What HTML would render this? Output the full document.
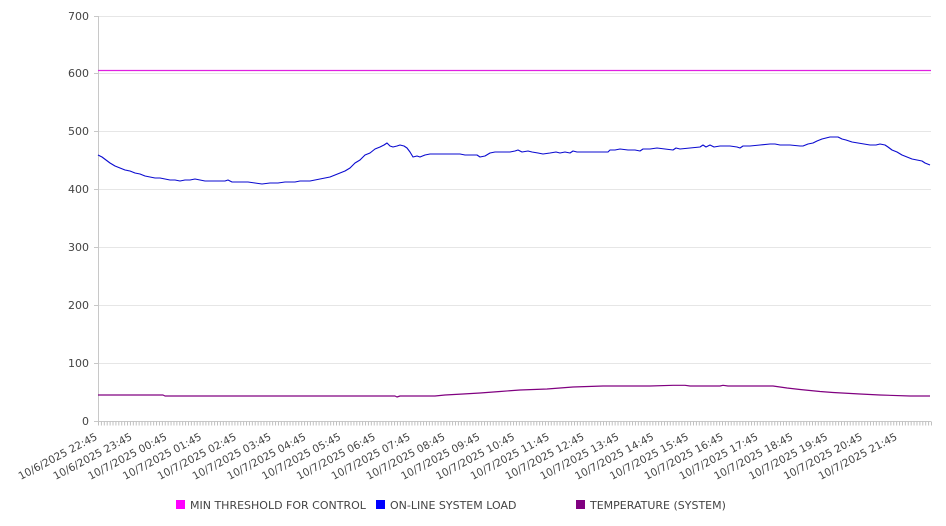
<!DOCTYPE html>
<html>
<head>
<meta charset="utf-8">
<style>
  html, body { margin: 0; padding: 0; background: #ffffff; }
  body { width: 946px; height: 526px; overflow: hidden; }
  svg { display: block; font-family: "DejaVu Sans", "Liberation Sans", sans-serif; }
  .yl { font-size: 11px; fill: #444; text-anchor: end; }
  .xl { font-size: 10.5px; fill: #444; text-anchor: end; }
  .lg { font-size: 11px; fill: #444; }
</style>
</head>
<body>
<svg width="946" height="526" viewBox="0 0 946 526" xmlns="http://www.w3.org/2000/svg">
  <!-- gridlines -->
  <g stroke="#e6e6e6" stroke-width="1">
    <line x1="98" y1="16.5" x2="931" y2="16.5"/>
    <line x1="98" y1="73.5" x2="931" y2="73.5"/>
    <line x1="98" y1="131.5" x2="931" y2="131.5"/>
    <line x1="98" y1="189.5" x2="931" y2="189.5"/>
    <line x1="98" y1="247.5" x2="931" y2="247.5"/>
    <line x1="98" y1="305.5" x2="931" y2="305.5"/>
    <line x1="98" y1="363.5" x2="931" y2="363.5"/>
  </g>
  <!-- axes -->
  <g stroke="#c8c8c8" stroke-width="1">
    <line x1="98.5" y1="16" x2="98.5" y2="421"/>
    <line x1="98" y1="421.5" x2="931" y2="421.5"/>
    <line x1="94" y1="16.5" x2="98" y2="16.5"/>
    <line x1="94" y1="73.5" x2="98" y2="73.5"/>
    <line x1="94" y1="131.5" x2="98" y2="131.5"/>
    <line x1="94" y1="189.5" x2="98" y2="189.5"/>
    <line x1="94" y1="247.5" x2="98" y2="247.5"/>
    <line x1="94" y1="305.5" x2="98" y2="305.5"/>
    <line x1="94" y1="363.5" x2="98" y2="363.5"/>
    <line x1="94" y1="421.5" x2="98" y2="421.5"/>
  </g>
  <!-- minor x ticks -->
  <line x1="98" y1="423.5" x2="932" y2="423.5" stroke="#c0c0c0" stroke-width="4" stroke-dasharray="1 1.9024"/>

  <!-- y labels -->
  <text class="yl" x="89" y="20">700</text>
  <text class="yl" x="89" y="77">600</text>
  <text class="yl" x="89" y="135">500</text>
  <text class="yl" x="89" y="193">400</text>
  <text class="yl" x="89" y="251">300</text>
  <text class="yl" x="89" y="309">200</text>
  <text class="yl" x="89" y="367">100</text>
  <text class="yl" x="89" y="425">0</text>

  <!-- x labels -->
  <g>
    <text class="xl" x="98" y="439" transform="rotate(-28 98 439)">10/6/2025 22:45</text>
    <text class="xl" x="132.8" y="439" transform="rotate(-28 132.8 439)">10/6/2025 23:45</text>
    <text class="xl" x="167.6" y="439" transform="rotate(-28 167.6 439)">10/7/2025 00:45</text>
    <text class="xl" x="202.3" y="439" transform="rotate(-28 202.3 439)">10/7/2025 01:45</text>
    <text class="xl" x="237.1" y="439" transform="rotate(-28 237.1 439)">10/7/2025 02:45</text>
    <text class="xl" x="271.9" y="439" transform="rotate(-28 271.9 439)">10/7/2025 03:45</text>
    <text class="xl" x="306.7" y="439" transform="rotate(-28 306.7 439)">10/7/2025 04:45</text>
    <text class="xl" x="341.5" y="439" transform="rotate(-28 341.5 439)">10/7/2025 05:45</text>
    <text class="xl" x="376.2" y="439" transform="rotate(-28 376.2 439)">10/7/2025 06:45</text>
    <text class="xl" x="411.0" y="439" transform="rotate(-28 411.0 439)">10/7/2025 07:45</text>
    <text class="xl" x="445.8" y="439" transform="rotate(-28 445.8 439)">10/7/2025 08:45</text>
    <text class="xl" x="480.6" y="439" transform="rotate(-28 480.6 439)">10/7/2025 09:45</text>
    <text class="xl" x="515.4" y="439" transform="rotate(-28 515.4 439)">10/7/2025 10:45</text>
    <text class="xl" x="550.1" y="439" transform="rotate(-28 550.1 439)">10/7/2025 11:45</text>
    <text class="xl" x="584.9" y="439" transform="rotate(-28 584.9 439)">10/7/2025 12:45</text>
    <text class="xl" x="619.7" y="439" transform="rotate(-28 619.7 439)">10/7/2025 13:45</text>
    <text class="xl" x="654.5" y="439" transform="rotate(-28 654.5 439)">10/7/2025 14:45</text>
    <text class="xl" x="689.3" y="439" transform="rotate(-28 689.3 439)">10/7/2025 15:45</text>
    <text class="xl" x="724.0" y="439" transform="rotate(-28 724.0 439)">10/7/2025 16:45</text>
    <text class="xl" x="758.8" y="439" transform="rotate(-28 758.8 439)">10/7/2025 17:45</text>
    <text class="xl" x="793.6" y="439" transform="rotate(-28 793.6 439)">10/7/2025 18:45</text>
    <text class="xl" x="828.4" y="439" transform="rotate(-28 828.4 439)">10/7/2025 19:45</text>
    <text class="xl" x="863.2" y="439" transform="rotate(-28 863.2 439)">10/7/2025 20:45</text>
    <text class="xl" x="897.9" y="439" transform="rotate(-28 897.9 439)">10/7/2025 21:45</text>
  </g>

  <!-- series: min threshold -->
  <line x1="98" y1="70.5" x2="931" y2="70.5" stroke="#e020e0" stroke-width="1.2"/>

  <!-- series: on-line system load -->
  <polyline fill="none" stroke="#0a0ad0" stroke-width="1.1" stroke-linejoin="round" points="
98,155 102,157 106,160 110,163 115,166 120,168 125,170 130,171 135,173 140,174 145,176 150,177 155,178 160,178 165,179 170,180 175,180 180,181 185,180 190,180 195,179 200,180 205,181 210,181 215,181 220,181 225,181 228,180 232,182 240,182 248,182 255,183 262,184 270,183 278,183 285,182 290,182 295,182 300,181 305,181 310,181 315,180 320,179 325,178 330,177 335,175 340,173 345,171 350,168 355,163 360,160 365,155 370,153 375,149 380,147 384,145 387,143 390,146 393,147 397,146 400,145 404,146 407,148 410,152 413,157 417,156 420,157 425,155 430,154 440,154 450,154 460,154 465,155 470,155 477,155 480,157 485,156 490,153 495,152 505,152 510,152 515,151 518,150 522,152 528,151 532,152 538,153 543,154 550,153 556,152 560,153 565,152 570,153 573,151 577,152 590,152 600,152 608,152 610,150 615,150 620,149 628,150 635,150 640,151 643,149 650,149 657,148 665,149 673,150 676,148 680,149 690,148 700,147 703,145 706,147 710,145 714,147 720,146 730,146 737,147 740,148 743,146 750,146 760,145 770,144 775,144 780,145 790,145 800,146 803,146 808,144 813,143 817,141 822,139 826,138 830,137 835,137 838,137 842,139 846,140 852,142 858,143 864,144 870,145 876,145 880,144 885,145 888,147 892,150 897,152 902,155 907,157 912,159 917,160 922,161 925,163 930,165"/>

  <!-- series: temperature -->
  <polyline fill="none" stroke="#800080" stroke-width="1.2" stroke-linejoin="round" points="
98,395 163,395 165,396 168,396 300,396 395,396 397,397 400,396 435,396 445,395 463,394 480,393 500,391.5 520,390 547,389 573,387 603,386 650,386 673,385.3 685,385.3 690,386 720,386 723,385.3 728,386 773,386 787,388 800,389.5 820,391.5 833,392.5 860,394 880,395 910,396 930,396"/>

  <!-- legend -->
  <rect x="176" y="500" width="9" height="9" fill="#ff00ff"/>
  <text class="lg" x="190" y="509">MIN THRESHOLD FOR CONTROL</text>
  <rect x="376" y="500" width="9" height="9" fill="#0000ff"/>
  <text class="lg" x="390" y="509">ON-LINE SYSTEM LOAD</text>
  <rect x="576" y="500" width="9" height="9" fill="#800080"/>
  <text class="lg" x="590" y="509">TEMPERATURE (SYSTEM)</text>
</svg>
</body>
</html>
